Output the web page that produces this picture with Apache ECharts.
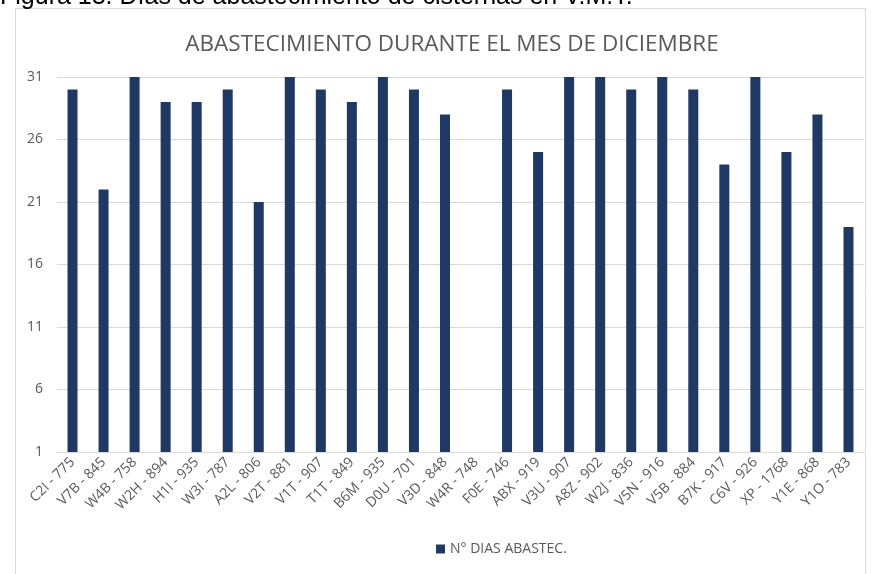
<!DOCTYPE html>
<html>
<head>
<meta charset="utf-8">
<script src="https://cdn.jsdelivr.net/npm/echarts@6/dist/echarts.min.js"></script>
<style>
  html, body { margin: 0; padding: 0; background: #fff; }
  #chart { width: 872px; height: 574px; }
</style>
</head>
<body>
<div id="chart"></div>
<script>
// categorías (cisterna - placa)
const categories = [
  'C2I - 775', 'V7B - 845', 'W4B - 758', 'W2H - 894', 'H1I - 935', 'W3I - 787',
  'A2L - 806', 'V2T - 881', 'V1T - 907', 'T1T - 849', 'B6M - 935', 'D0U - 701',
  'V3D - 848', 'W4R - 748', 'F0E - 746', 'ABX - 919', 'V3U - 907', 'A8Z - 902',
  'W2J - 836', 'V5N - 916', 'V5B - 884', 'B7K - 917', 'C6V - 926', 'XP - 1768',
  'Y1E - 868', 'Y1O - 783'
]
// N° días de abastecimiento
const diasAbastec = [
  30, 22, 31, 29, 29, 30, 21, 31, 30, 29, 31, 30, 28, 1,
  30, 25, 31, 31, 30, 31, 30, 24, 31, 25, 28, 19
]
const yTicks = [1, 6, 11, 16, 21, 26, 31]

const chart = echarts.init(document.getElementById('chart'))
const options = {
  backgroundColor: '#fff',
  animation: false,
  title: {
    text: 'ABASTECIMIENTO DURANTE EL MES DE DICIEMBRE',
    left: 447,
    textAlign: 'center',
    top: 28,
    textStyle: {
      color: '#595959',
      fontFamily: 'Open Sans',
      fontWeight: 'normal',
      fontSize: 22.5,
    },
  },
  graphic: [
    // marco del gráfico
    {
      type: 'rect',
      shape: { x: 15.5, y: 8.5, width: 850, height: 600 },
      style: { fill: 'none', stroke: '#d9d9d9', lineWidth: 1 },
      silent: true,
    },
    // pie de figura (cortado arriba)
    {
      type: 'text',
      left: 0,
      top: -15,
      style: {
        text: 'Figura 13. Días de abastecimiento de cisternas en V.M.T.',
        fill: '#000',
        font: '25px "Liberation Sans", Arial',
      },
      silent: true,
    },
  ],
  legend: {
    top: 537,
    left: 431,
    itemWidth: 9,
    itemHeight: 9,
    icon: 'rect',
    itemGap: 4,
    textStyle: { color: '#595959', fontFamily: 'Open Sans', fontSize: 14 },
    data: ['N° DIAS ABASTEC.'],
  },
  grid: {
    left: 57,
    right: 8,
    top: 77,
    bottom: 122,
  },
  xAxis: {
    type: 'category',
    data: categories,
    axisLine: { lineStyle: { color: '#d9d9d9' } },
    axisTick: { show: false },
    axisLabel: {
      rotate: 45,
      interval: 0,
      color: '#595959',
      fontFamily: 'Open Sans',
      fontSize: 14,
      margin: 8,
    },
  },
  yAxis: {
    type: 'value',
    min: 1,
    max: 31,
    interval: 5,
    axisLine: { show: false },
    axisTick: { show: false },
    axisLabel: {
      color: '#595959',
      fontFamily: 'Open Sans',
      fontSize: 14,
      margin: 14,
      formatter: v => (yTicks.includes(v) ? String(v) : ''),
    },
    splitLine: { lineStyle: { color: '#d9d9d9' } },
  },
  series: [
    {
      name: 'N° DIAS ABASTEC.',
      type: 'bar',
      data: diasAbastec,
      barWidth: 10,
      itemStyle: { color: '#203864' },
    },
  ],
}
chart.setOption(options)
</script>
</body>
</html>
